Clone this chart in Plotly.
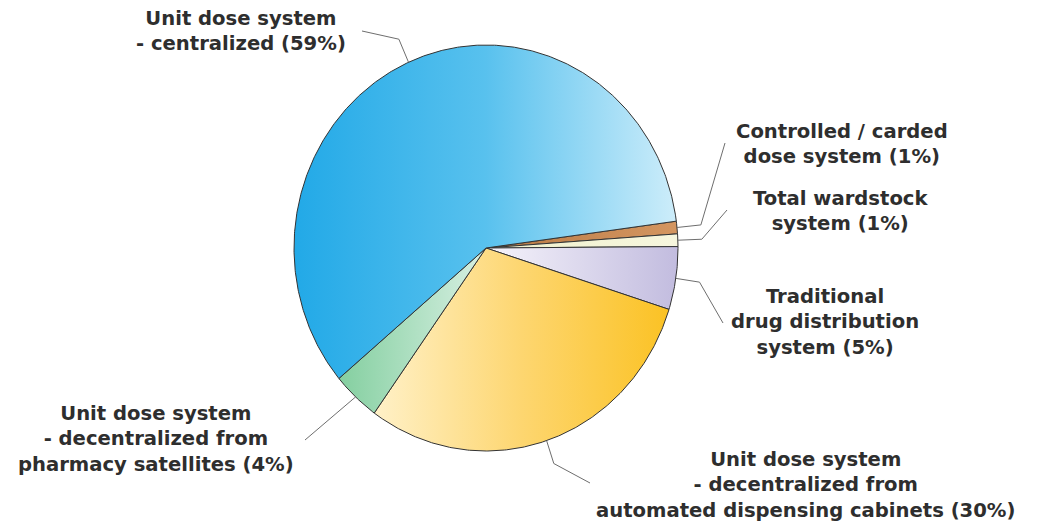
import numpy as np
import plotly.graph_objects as go

# Drug distribution systems and their share of hospitals (%)
categories = [
    "Controlled / carded<br>dose system",
    "Total wardstock<br>system",
    "Traditional<br>drug distribution<br>system",
    "Unit dose system<br>- decentralized from<br>automated dispensing cabinets",
    "Unit dose system<br>- decentralized from<br>pharmacy satellites",
    "Unit dose system<br>- centralized",
]
shares = [1, 1, 5, 30, 4, 59]

# Horizontal fill gradients (left -> right) for each slice
slice_colorscales = [
    [[0, "#b97a45"], [1, "#d49661"]],
    [[0, "#f0f0cc"], [1, "#f6f6de"]],
    [[0, "#f6f4fb"], [1, "#c2bcdf"]],
    [[0, "#fff1c8"], [0.5, "#fdd670"], [1, "#fbc224"]],
    [[0, "#84cfa0"], [1, "#d8f0e3"]],
    [[0, "#22a9e7"], [0.5, "#58c1ee"], [1, "#cdedfa"]],
]

# Canvas / pie geometry (pixels)
W, H = 1038, 522
CX, CY = 486, 248          # pie centre
RX, RY = 192, 203          # pie radii
START_DEG = 7.6            # first slice starts here, slices run clockwise

# Label anchor (pixel centre) and leader-line end (pixel) for each slice
label_pos = [(842, 144), (840, 211), (825, 322), (805, 485), (156, 439), (241, 31)]
leader_end = [(725, 143), (727, 210), (723, 323), (590, 483), (305, 440), (362, 31)]
leader_radial = [24, 24, 24, 24, 0, 25]

def to_data(px, py):
    return (px - CX) / RX, (CY - py) / RY

def to_paper(px, py):
    return px / W, 1 - py / H

fig = go.Figure()

total = float(sum(shares))
cum = np.concatenate([[0], np.cumsum(shares)])
starts = START_DEG - cum[:-1] / total * 360.0
ends = START_DEG - cum[1:] / total * 360.0

# Slices
for i, (a0, a1) in enumerate(zip(starts, ends)):
    n = max(4, int(abs(a1 - a0) * 2))
    theta = np.radians(np.linspace(a0, a1, n))
    xs = np.concatenate([[0], np.cos(theta), [0]])
    ys = np.concatenate([[0], np.sin(theta), [0]])
    fig.add_trace(go.Scatter(
        x=xs, y=ys, mode="lines", fill="toself",
        fillgradient=dict(type="horizontal", colorscale=slice_colorscales[i]),
        line=dict(color="#333333", width=1),
        hoverinfo="skip", showlegend=False,
    ))

# Leader lines and labels
for i, (a0, a1) in enumerate(zip(starts, ends)):
    mid = np.radians((a0 + a1) / 2)
    ex, ey = CX + RX * np.cos(mid), CY - RY * np.sin(mid)
    vx, vy = RX * np.cos(mid), -RY * np.sin(mid)
    norm = np.hypot(vx, vy)
    bx, by = ex + vx / norm * leader_radial[i], ey + vy / norm * leader_radial[i]
    pts = [to_data(ex, ey), to_data(bx, by), to_data(*leader_end[i])]
    fig.add_trace(go.Scatter(
        x=[p[0] for p in pts], y=[p[1] for p in pts], mode="lines",
        line=dict(color="#6e6e6e", width=1),
        hoverinfo="skip", showlegend=False,
    ))
    px, py = to_paper(*label_pos[i])
    fig.add_annotation(
        x=px, y=py, xref="paper", yref="paper",
        text=f"{categories[i]} ({shares[i]}%)",
        showarrow=False, xanchor="center", yanchor="middle", align="center",
        font=dict(family="DejaVu Sans", size=19.6, color="#2e2e2e", weight="bold"),
    )

x0, y1 = to_data(0, 0)
x1, y0 = to_data(W, H)
fig.update_xaxes(range=[x0, x1], visible=False, fixedrange=True)
fig.update_yaxes(range=[y0, y1], visible=False, fixedrange=True)
fig.update_layout(
    width=W, height=H, margin=dict(l=0, r=0, t=0, b=0),
    paper_bgcolor="white", plot_bgcolor="white",
)

fig.write_html("out.html")
